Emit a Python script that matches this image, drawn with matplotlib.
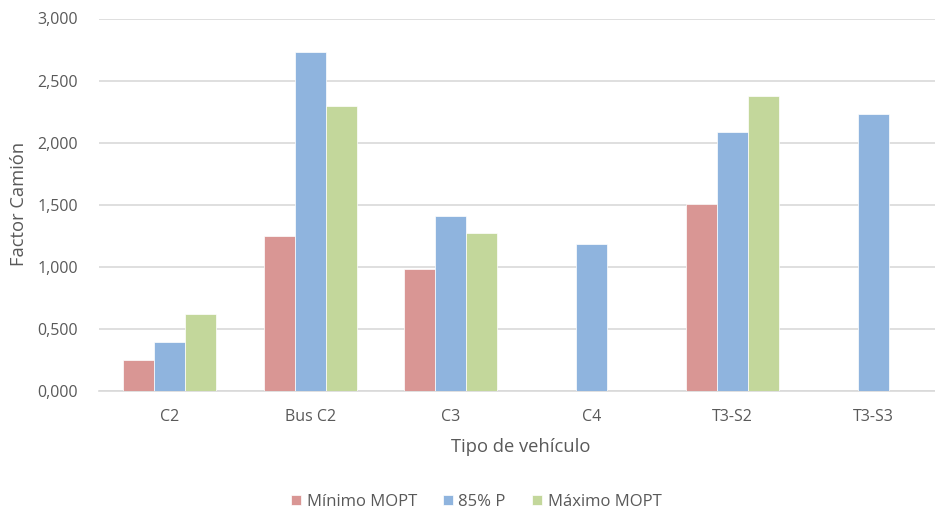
import matplotlib
matplotlib.use("Agg")
import matplotlib.pyplot as plt
import numpy as np
from matplotlib.ticker import FuncFormatter

categories = ["C2", "Bus C2", "C3", "C4", "T3-S2", "T3-S3"]
minimo_mopt = [0.250, 1.248, 0.982, 0.0, 1.506, 0.0]
p85 = [0.397, 2.727, 1.409, 1.186, 2.088, 2.228]
maximo_mopt = [0.621, 2.292, 1.270, 0.0, 2.375, 0.0]
series_names = ["Mínimo MOPT", "85% P", "Máximo MOPT"]
colors = ["#D99694", "#8FB4DE", "#C3D79B"]
yticks = [0.0, 0.5, 1.0, 1.5, 2.0, 2.5, 3.0]

plt.rcParams['font.family'] = ['Open Sans', 'DejaVu Sans']
txt = "#595959"

fig = plt.figure(figsize=(9.35, 5.12), dpi=100)
ax = fig.add_axes([99/935, 1-391/512, 844.7/935, (391-18.5)/512])

x = np.arange(len(categories))
w = 0.22
for i, (vals, name, c) in enumerate(zip([minimo_mopt, p85, maximo_mopt], series_names, colors)):
    ax.bar(x + (i-1)*w, vals, width=w, color=c, label=name, edgecolor="white", linewidth=0.5, zorder=3)

ax.set_xlim(-0.5, len(categories)-0.5)
ax.set_ylim(0, 3.0)
ax.set_yticks(yticks)
ax.yaxis.set_major_formatter(FuncFormatter(lambda v, p: f"{v:.3f}".replace(".", ",")))
ax.set_xticks(x)
ax.set_xticklabels(categories)
ax.grid(axis="y", color="#D9D9D9", linewidth=1.2, zorder=0)
for s in ["top", "right", "left"]:
    ax.spines[s].set_visible(False)
ax.spines["bottom"].set_color("#D9D9D9")
ax.spines["bottom"].set_linewidth(1.2)
ax.tick_params(axis="both", length=0, labelsize=11.5, colors=txt)
ax.tick_params(axis="y", pad=15)
ax.tick_params(axis="x", pad=13)

fig.text(19/935, 1-204/512, "Factor Camión", rotation=90, ha="center", va="center", fontsize=13.2, color=txt)
fig.text(521/935, 1-447/512, "Tipo de vehículo", ha="center", va="center", fontsize=13.2, color=txt)

fig.legend(loc="center", bbox_to_anchor=(476/935, 1-502/512), ncol=3, frameon=False,
           fontsize=12, labelcolor=txt, handlelength=0.6, handleheight=0.6,
           handletextpad=0.35, columnspacing=1.55)

fig.savefig("out.png", dpi=100)
